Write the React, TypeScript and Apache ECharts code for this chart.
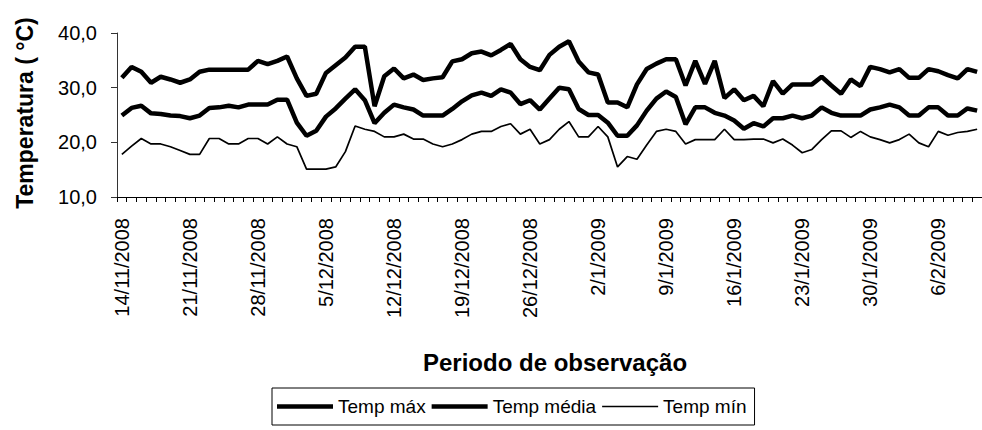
import { useEffect, useRef } from "react";
import * as echarts from "echarts";

const categories = [
  "14/11/2008", "15/11/2008", "16/11/2008", "17/11/2008", "18/11/2008", "19/11/2008", "20/11/2008",
  "21/11/2008", "22/11/2008", "23/11/2008", "24/11/2008", "25/11/2008", "26/11/2008", "27/11/2008",
  "28/11/2008", "29/11/2008", "30/11/2008", "1/12/2008", "2/12/2008", "3/12/2008", "4/12/2008",
  "5/12/2008", "6/12/2008", "7/12/2008", "8/12/2008", "9/12/2008", "10/12/2008", "11/12/2008",
  "12/12/2008", "13/12/2008", "14/12/2008", "15/12/2008", "16/12/2008", "17/12/2008", "18/12/2008",
  "19/12/2008", "20/12/2008", "21/12/2008", "22/12/2008", "23/12/2008", "24/12/2008", "25/12/2008",
  "26/12/2008", "27/12/2008", "28/12/2008", "29/12/2008", "30/12/2008", "31/12/2008", "1/1/2009",
  "2/1/2009", "3/1/2009", "4/1/2009", "5/1/2009", "6/1/2009", "7/1/2009", "8/1/2009",
  "9/1/2009", "10/1/2009", "11/1/2009", "12/1/2009", "13/1/2009", "14/1/2009", "15/1/2009",
  "16/1/2009", "17/1/2009", "18/1/2009", "19/1/2009", "20/1/2009", "21/1/2009", "22/1/2009",
  "23/1/2009", "24/1/2009", "25/1/2009", "26/1/2009", "27/1/2009", "28/1/2009", "29/1/2009",
  "30/1/2009", "31/1/2009", "1/2/2009", "2/2/2009", "3/2/2009", "4/2/2009", "5/2/2009",
  "6/2/2009", "7/2/2009", "8/2/2009", "9/2/2009", "10/2/2009",
];

const tempMax = [
  31.8, 33.8, 32.9, 30.9, 32.0, 31.5, 30.9, 31.5, 32.9, 33.3,
  33.3, 33.3, 33.3, 33.3, 34.9, 34.3, 34.9, 35.7, 31.7, 28.5,
  28.9, 32.7, 34.1, 35.5, 37.5, 37.5, 26.6, 32.1, 33.5, 31.7,
  32.4, 31.4, 31.7, 31.9, 34.8, 35.2, 36.3, 36.6, 35.9, 36.9,
  38.0, 35.2, 33.8, 33.2, 36.0, 37.5, 38.5, 34.8, 32.8, 32.4,
  27.3, 27.3, 26.4, 30.6, 33.4, 34.4, 35.2, 35.2, 30.4, 34.9,
  30.7, 34.9, 28.1, 29.7, 27.7, 28.5, 26.6, 31.2, 28.9, 30.6,
  30.6, 30.6, 32.0, 30.4, 28.9, 31.5, 30.3, 33.8, 33.4, 32.8,
  33.4, 31.8, 31.8, 33.4, 33.0, 32.3, 31.7, 33.4, 32.9,
];

const tempMedia = [
  24.9, 26.3, 26.7, 25.3, 25.2, 24.9, 24.8, 24.4, 24.9, 26.3,
  26.4, 26.7, 26.4, 26.9, 26.9, 26.9, 27.8, 27.8, 23.6, 21.2,
  22.1, 24.7, 26.2, 28.0, 29.7, 27.7, 23.5, 25.4, 26.9, 26.4,
  26.0, 24.9, 24.9, 24.9, 26.1, 27.5, 28.6, 29.1, 28.5, 29.7,
  29.1, 27.0, 27.7, 26.0, 28.0, 30.0, 29.7, 26.1, 25.0, 25.0,
  23.6, 21.2, 21.2, 23.1, 25.8, 28.0, 29.3, 28.3, 23.3, 26.4,
  26.4, 25.4, 24.9, 24.0, 22.5, 23.5, 22.9, 24.4, 24.4, 24.9,
  24.4, 24.9, 26.4, 25.4, 24.9, 24.9, 24.9, 26.0, 26.4, 26.9,
  26.4, 24.9, 24.9, 26.4, 26.4, 24.9, 24.9, 26.2, 25.8,
];

const tempMin = [
  17.8, 19.3, 20.7, 19.7, 19.7, 19.2, 18.5, 17.8, 17.8, 20.7,
  20.7, 19.7, 19.7, 20.7, 20.7, 19.7, 21.0, 19.7, 19.2, 15.1,
  15.1, 15.1, 15.5, 18.3, 23.0, 22.4, 22.0, 21.0, 21.0, 21.5,
  20.6, 20.6, 19.7, 19.2, 19.7, 20.5, 21.5, 22.0, 22.0, 22.9,
  23.4, 21.5, 22.4, 19.7, 20.5, 22.4, 23.8, 21.0, 21.0, 22.9,
  21.0, 15.5, 17.4, 16.9, 19.5, 22.0, 22.4, 22.0, 19.7, 20.5,
  20.5, 20.5, 22.4, 20.5, 20.5, 20.6, 20.6, 19.9, 20.6, 19.5,
  18.1, 18.7, 20.5, 22.1, 22.1, 20.9, 22.0, 21.0, 20.5, 19.9,
  20.5, 21.5, 19.9, 19.2, 22.0, 21.3, 21.8, 22.0, 22.4,
];

const seriesNames = ["Temp máx", "Temp média", "Temp mín"];
const yTitle = "Temperatura ( °C)";
const xTitle = "Periodo de observação";

const FONT = "'Liberation Sans', Arial, sans-serif";
const THICK = 4.5;
const THIN = 1.7;

export default function App() {
  const ref = useRef<HTMLDivElement>(null);

  useEffect(() => {
    const chart = echarts.init(ref.current!, null, { renderer: "svg" });
    const lineIcon = (h: number) => `path://M0,0h58v${h}h-58z`;
    chart.setOption({
      animation: false,
      backgroundColor: "#ffffff",
      textStyle: { fontFamily: FONT, color: "#000" },
      grid: { left: 117, top: 33, width: 866, height: 164, containLabel: false },
      xAxis: {
        type: "category",
        data: categories,
        boundaryGap: true,
        axisLine: { show: true, lineStyle: { color: "#000", width: 1 } },
        axisTick: { show: true, interval: 0, length: 5, lineStyle: { color: "#000" } },
        axisLabel: {
          interval: 6,
          rotate: 90,
          margin: 21,
          fontSize: 20,
          fontFamily: FONT,
          color: "#000",
        },
        splitLine: { show: false },
      },
      yAxis: {
        type: "value",
        min: 10,
        max: 40,
        interval: 10,
        axisLine: { show: true, lineStyle: { color: "#333", width: 1 } },
        axisTick: { show: true, length: 6, lineStyle: { color: "#333" } },
        axisLabel: {
          margin: 20,
          fontSize: 20,
          fontFamily: FONT,
          color: "#000",
          formatter: (v: number) => v.toFixed(1).replace(".", ","),
        },
        splitLine: { show: false },
      },
      graphic: [
        {
          type: "text",
          x: 25,
          y: 113,
          rotation: Math.PI / 2,
          style: {
            text: yTitle,
            font: `bold 23px ${FONT}`,
            fill: "#000",
            textAlign: "center",
            textVerticalAlign: "middle",
          },
        },
        {
          type: "text",
          x: 555,
          y: 362,
          style: {
            text: xTitle,
            font: `bold 24px ${FONT}`,
            fill: "#000",
            textAlign: "center",
            textVerticalAlign: "middle",
          },
        },
      ],
      legend: {
        data: [
          { name: seriesNames[0], icon: lineIcon(THICK) },
          { name: seriesNames[1], icon: lineIcon(THICK) },
          { name: seriesNames[2], icon: lineIcon(THIN) },
        ],
        left: 272,
        top: 388,
        orient: "horizontal",
        itemWidth: 56,
        itemHeight: 12,
        itemGap: 6,
        symbolKeepAspect: true,
        padding: [9, 8, 9, 5],
        borderColor: "#000",
        borderWidth: 1,
        textStyle: { fontSize: 19, fontFamily: FONT, color: "#000" },
      },
      series: [
        {
          name: seriesNames[0],
          type: "line",
          data: tempMax,
          symbol: "none",
          showSymbol: false,
          lineStyle: { color: "#000", width: THICK },
          itemStyle: { color: "#000" },
        },
        {
          name: seriesNames[1],
          type: "line",
          data: tempMedia,
          symbol: "none",
          showSymbol: false,
          lineStyle: { color: "#000", width: THICK },
          itemStyle: { color: "#000" },
        },
        {
          name: seriesNames[2],
          type: "line",
          data: tempMin,
          symbol: "none",
          showSymbol: false,
          lineStyle: { color: "#000", width: THIN },
          itemStyle: { color: "#000" },
        },
      ],
    });
    return () => chart.dispose();
  }, []);

  return (
    <div
      ref={ref}
      style={{ position: "fixed", left: 0, top: 0, width: 982, height: 430, background: "#fff" }}
    />
  );
}
